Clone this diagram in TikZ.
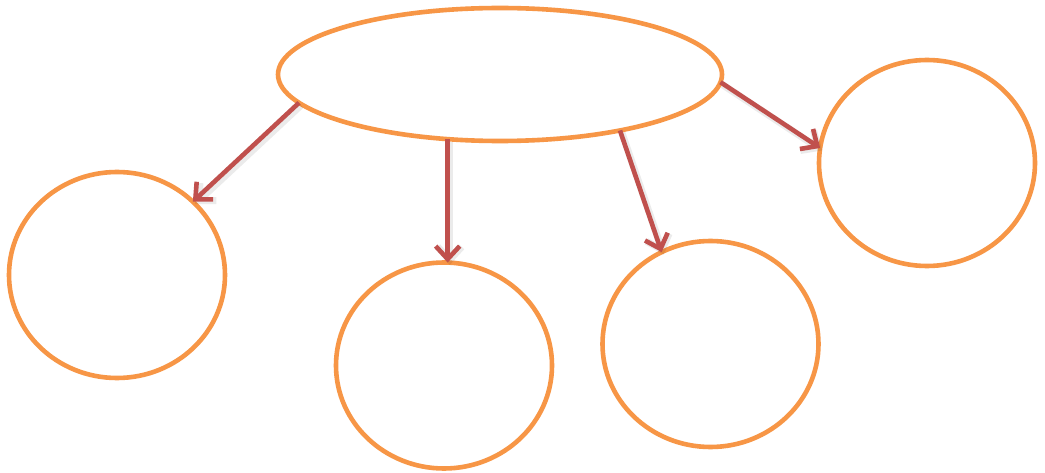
\documentclass[tikz,border=0pt]{standalone}
\usetikzlibrary{shapes.geometric,arrows.meta}
\definecolor{borange}{HTML}{F79646}
\definecolor{ared}{HTML}{C0504D}
\tikzset{
  bubble/.style={ellipse, draw=borange, line width=4.6pt, inner sep=0pt, outer sep=0pt, fill=white},
  link/.style={draw=ared, line width=4.6pt, -{Straight Barb[length=13pt,width=24pt]},
    preaction={draw=black, opacity=0.08, line width=7pt, -{Straight Barb[length=13pt,width=24pt]}, transform canvas={shift={(2pt,-2.5pt)}}}}
}
\begin{document}
\begin{tikzpicture}[x=1pt,y=-1pt]
\useasboundingbox[fill=white] (0,0) rectangle (1045,473);
\node[bubble, minimum width=444pt, minimum height=133pt] (e) at (500,74.5) {};
\node[bubble, minimum width=216pt, minimum height=206pt] (c1) at (117,275) {};
\node[bubble, minimum width=216pt, minimum height=206pt] (c2) at (444,365.5) {};
\node[bubble, minimum width=216pt, minimum height=206pt] (c3) at (710.5,344) {};
\node[bubble, minimum width=216pt, minimum height=206pt] (c4) at (927,163) {};
\draw[link] (e.188) -- (c1.44);
\draw[link] (e.231) -- (e.231 |- c2.north);
\draw[link] (e.335) -- (c3.118);
\draw[link] (e.358) -- (c4.172);
\end{tikzpicture}
\end{document}
